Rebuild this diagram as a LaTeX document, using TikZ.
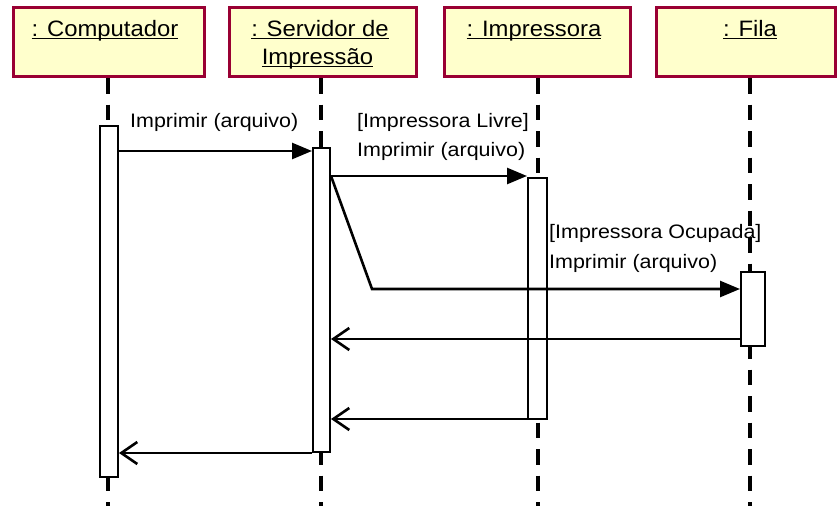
\documentclass[tikz,border=0pt]{standalone}
\usepackage{fontspec}
\setmainfont{Liberation Sans}
\newfontfamily\hdrfont[FakeStretch=1.07]{Liberation Sans}
\newfontfamily\msgfont[FakeStretch=1.1]{Liberation Sans}
\usetikzlibrary{arrows.meta}
\definecolor{hdrborder}{RGB}{153,0,51}
\definecolor{hdrfill}{RGB}{255,255,204}
\newcommand{\uln}[1]{\setbox0\hbox{#1}\rlap{\rule[-2.5pt]{\wd0}{1pt}}\box0}
\begin{document}
\begin{tikzpicture}[x=1pt,y=-1pt,
  hdrbox/.style={draw=hdrborder, fill=hdrfill, line width=2.6pt, inner sep=0pt, minimum height=69pt},
  hdrtext/.style={anchor=base, inner sep=0pt, font=\hdrfont\fontsize{22.3}{26}\selectfont},
  lifeline/.style={line width=4.5pt, dash pattern=on 15.5pt off 11pt},
  act/.style={draw, fill=white, line width=2pt, inner sep=0pt},
  msg/.style={anchor=base west, inner sep=0pt, font=\msgfont\fontsize{19.5}{24}\selectfont},
  sync/.style={line width=2.6pt, line join=miter, -{Triangle[length=20pt,width=16pt]}},
  ret/.style={line width=2.6pt, -{Straight Barb[length=16pt,width=22pt,line width=2.6pt]}}]
\useasboundingbox (0,0) rectangle (838,506);
% header boxes
\node[hdrbox, minimum width=191pt] (comp) at (109,42) {};
\node[hdrbox, minimum width=187pt] (serv) at (323,42) {};
\node[hdrbox, minimum width=186pt] (impr) at (537.5,42) {};
\node[hdrbox, minimum width=179pt] (fila) at (746,42) {};
\node[hdrtext] (compT) at (105,36) {\uln{: Computador}};
\node[hdrtext] (servT1) at (320,36) {\uln{: Servidor de}};
\node[hdrtext] (servT2) at (317.5,64) {\uln{Impressão}};
\node[hdrtext] (imprT) at (534,36) {\uln{: Impressora}};
\node[hdrtext] (filaT) at (750,36) {\uln{: Fila}};
% lifelines
\coordinate (bottom) at (0,506);
\coordinate (compL) at (108,78);
\coordinate (servL) at (321,78);
\coordinate (imprL) at (538,78);
\coordinate (filaL) at (750,78);
\draw[lifeline] (compL) -- (compL |- bottom);
\draw[lifeline] (servL) -- (servL |- bottom);
\draw[lifeline] (imprL) -- (imprL |- bottom);
\draw[lifeline] (filaL) -- (filaL |- bottom);
% activation boxes
\node[act, minimum width=18pt, minimum height=351pt] (a1) at (109,301.5) {};
\node[act, minimum width=17pt, minimum height=304pt] (a2) at (321.5,299.5) {};
\node[act, minimum width=19pt, minimum height=241pt] (a3) at (537.5,298) {};
\node[act, minimum width=24pt, minimum height=74pt] (a4) at (753,308.5) {};
% message levels
\coordinate (y1) at (0,151);
\coordinate (y2) at (0,176);
\coordinate (y3) at (0,289);
\coordinate (y4) at (0,339);
\coordinate (y5) at (0,419);
\coordinate (y6) at (0,453);
\coordinate (bend) at (372,289);
% messages
\draw[sync] (a1.east |- y1) -- (a2.west |- y1);
\draw[sync] (a2.east |- y2) -- (a3.west |- y2);
\draw[sync] (a2.east |- y2) -- (bend) -- (a4.west |- y3);
\draw[ret] (a4.west |- y4) -- (a2.east |- y4);
\draw[ret] (a3.west |- y5) -- (a2.east |- y5);
\draw[ret] (a2.west |- y6) -- (a1.east |- y6);
% labels
\node[msg] (l1) at (130,127) {Imprimir (arquivo)};
\node[msg] (l2a) at (357,127) {[Impressora Livre]};
\node[msg] (l2b) at (357,156) {Imprimir (arquivo)};
\node[msg] (l3a) at (549,238) {[Impressora Ocupada]};
\node[msg] (l3b) at (549,268) {Imprimir (arquivo)};
\end{tikzpicture}
\end{document}
